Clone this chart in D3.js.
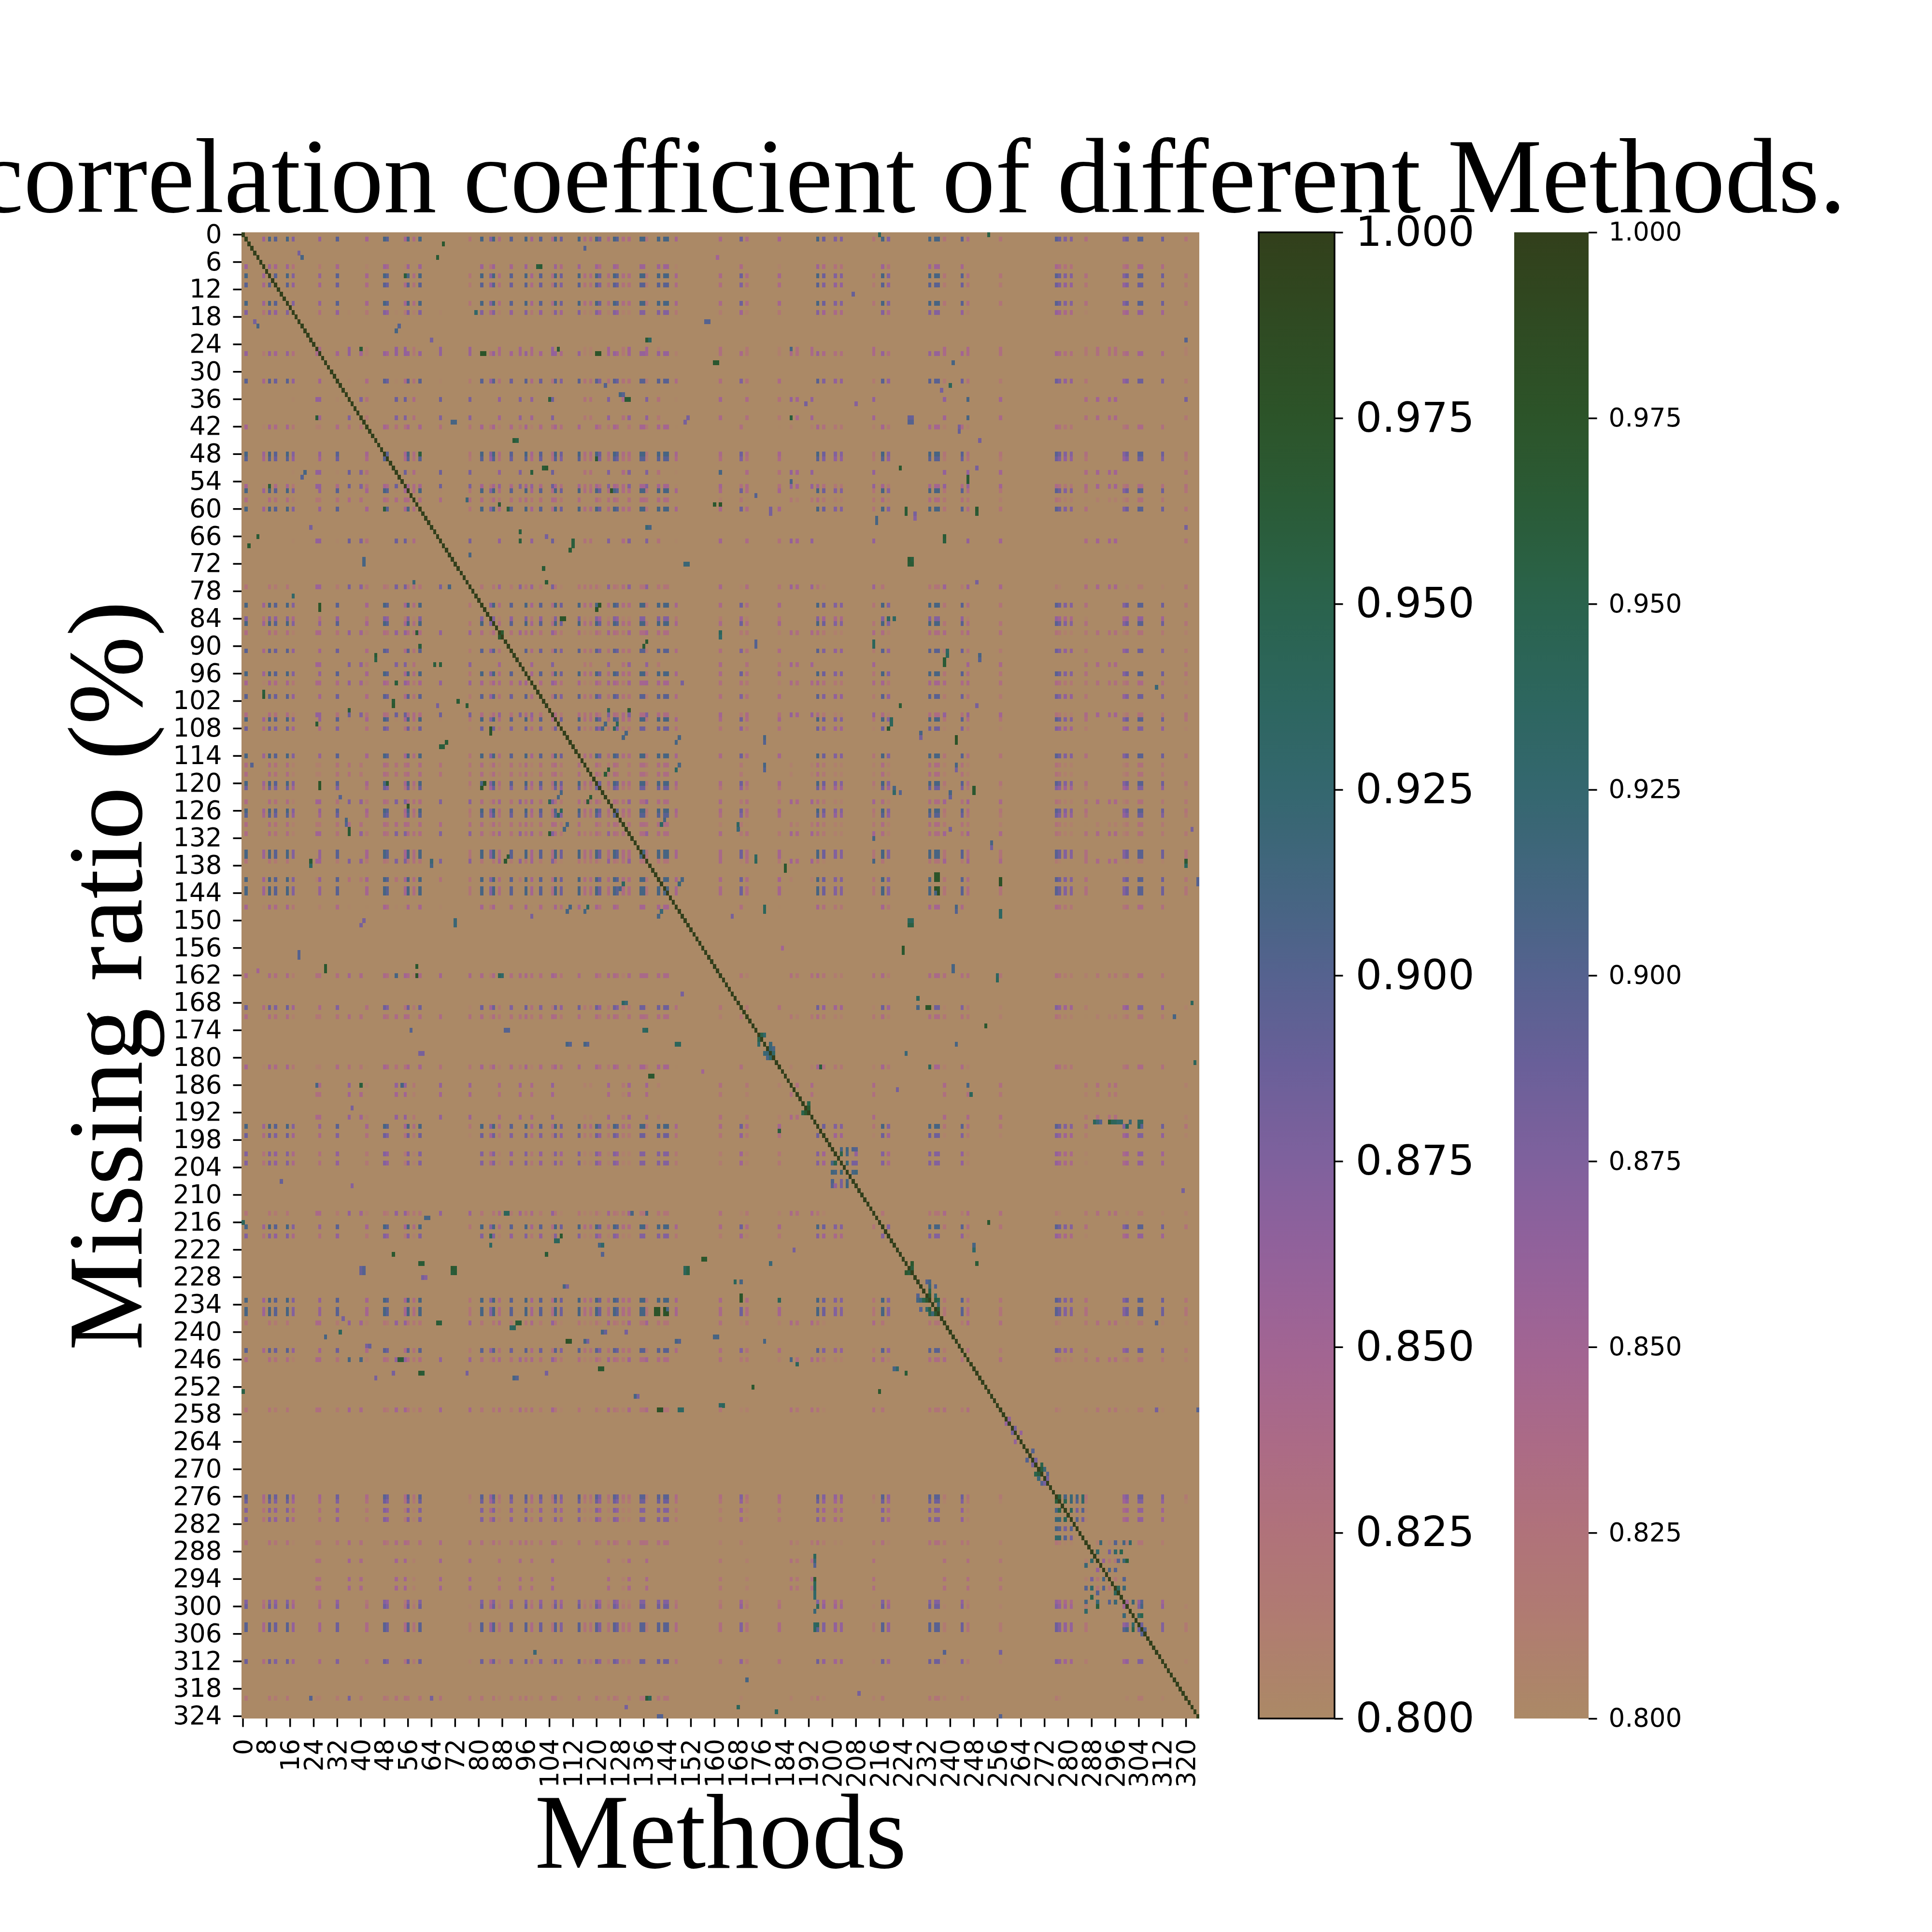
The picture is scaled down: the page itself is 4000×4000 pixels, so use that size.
<!DOCTYPE html>
<html>
<head>
<meta charset="utf-8">
<script src="https://cdn.jsdelivr.net/npm/d3@7/dist/d3.min.js"></script>
<style>
  body { margin: 0; background: #fff; }
</style>
</head>
<body>
<div id="chart"></div>
<script>
// ---- data ----
const nMethods = 325
const yTickStep = 6
const xTickStep = 8
const vmin = 0.8
const vmax = 1.0
const cbTicks = [0.800, 0.825, 0.850, 0.875, 0.900, 0.925, 0.950, 0.975, 1.000]

// colour ramp sampled from the colorbar
const rampValues = [0.8, 0.8125, 0.825, 0.8375, 0.85, 0.8625, 0.875, 0.8875, 0.9, 0.9125, 0.925, 0.9375, 0.95, 0.9625, 0.975, 0.9875, 1.0]
const rampColors = ["#ab8966", "#b07c70", "#b0727a", "#ab6a86", "#a26493", "#92619b", "#7f619d", "#6a5f99", "#55628f",
                    "#43657f", "#34676f", "#2c665e", "#2a634c", "#2a5c38", "#2c5429", "#2f4a22", "#323f1b"]

// methods that show the repeating striped grid, with their strength in the
// main group (A) and in the second, weaker group (B)
const hotIdx = [1, 7, 9, 11, 15, 17, 25, 26, 32, 36, 40, 42, 48, 49, 52, 55, 56, 58, 60, 67, 77, 81, 84, 85, 87, 91, 94, 96, 98, 101,
                105, 106, 108, 114, 116, 118, 120, 121, 124, 126, 127, 129, 131, 135, 136, 137, 141, 143, 144, 147, 162, 169, 171,
                182, 186, 188, 193, 195, 197, 201, 203, 214, 217, 219, 233, 235, 236, 238, 244, 246, 257, 276, 277, 279, 281, 286,
                290, 294, 296, 299, 300, 304, 305, 312, 320]
const levelA = [1.0, 0.78, 1.0, 0.95, 1.0, 0.85, 0.5, 0.8, 0.95, 0.5, 0.5, 0.75, 1.0, 0.95, 0.5, 0.75, 1.0, 0.7, 1.0, 0.5, 0.65, 1.0, 0.85, 1.0, 0.7, 0.95, 0.5, 1.0, 0.75, 0.95,
                0.7, 1.0, 0.9, 1.0, 0.7, 0.7, 1.0, 0.9, 0.7, 1.0, 0.95, 0.7, 0.7, 1.0, 1.0, 0.65, 1.0, 1.0, 1.0, 0.75, 0.72, 0.9, 0.7,
                0.75, 0.5, 0, 0.5, 1.0, 0.9, 0.85, 0.85, 0.65, 1.0, 0.85, 1.0, 1.0, 1.0, 0.65, 0.95, 0.7, 0.65, 0.95, 0.9, 0.85, 0.85, 0.68,
                0, 0, 0, 0.85, 0.9, 0.95, 0.95, 0.9, 0.65]
const levelB = [0, 0, 0, 0, 0, 0.6, 0.85, 0.85, 0.6, 0.95, 0.9, 0.7, 0, 0, 0.95, 0.95, 0.6, 0.75, 0, 0.95, 0.92, 0, 0, 0, 0.85, 0, 0.9, 0, 0.85, 0,
                0.95, 0.6, 0, 0, 0.7, 0.7, 0, 0, 0.9, 0, 0, 0.75, 0.9, 0, 0, 0.9, 0.7, 0, 0, 0.6, 0.8, 0, 0.75,
                0.7, 0.85, 0.8, 0.85, 0, 0, 0, 0, 0.85, 0, 0, 0, 0, 0, 0.85, 0, 0.85, 0.8, 0, 0, 0, 0, 0.75,
                0.8, 0.8, 0.8, 0, 0, 0, 0, 0, 0.7]

// isolated high cells [row, col, value] (mirrored)
const spots = [
  [2,68,0.97],[5,66,0.965],[7,100,0.96],[3,116,0.88],[4,19,0.88],[5,20,0.91],[21,52,0.91],[23,64,0.88],[23,137,0.965],[19,157,0.9],
  [25,40,0.96],[26,81,0.975],[25,107,0.965],[26,120,0.975],[28,160,0.97],[33,123,0.9],[36,130,0.965],[36,104,0.96],[35,128,0.91],
  [40,25,0.965],[41,71,0.91],[41,150,0.88],[45,92,0.965],[51,102,0.965],[53,20,0.9],[55,9,0.96],[56,125,0.975],[58,76,0.92],
  [59,87,0.965],[60,48,0.96],[59,160,0.97],[60,90,0.96],[64,23,0.88],[64,137,0.92],[65,94,0.96],[66,103,0.88],[69,111,0.965],
  [70,77,0.91],[72,41,0.91],[73,102,0.965],[72,150,0.92],[76,103,0.965],[79,17,0.93],[82,26,0.975],[82,120,0.975],[84,108,0.975],
  [87,59,0.96],[87,88,0.97],[90,136,0.965],[93,45,0.955],[94,67,0.96],[98,52,0.96],[101,7,0.965],[102,73,0.965],[103,51,0.97],[107,25,0.965],
  [0,216,0.94],[0,253,0.955],[5,161,0.85],[13,207,0.89],[23,320,0.89],[28,241,0.89],[33,240,0.91],[34,237,0.88],[37,191,0.88],
  [37,208,0.87],[40,186,0.96],[41,226,0.9],[41,227,0.9],[43,243,0.89],[45,250,0.87],[51,223,0.965],[51,249,0.88],[52,162,0.91],
  [54,246,0.965],[57,174,0.9],[59,162,0.975],[61,179,0.88],[61,225,0.965],[62,228,0.87],[61,249,0.965],[63,215,0.91],[64,320,0.88],
  [67,238,0.96],[72,226,0.965],[72,227,0.965],[76,249,0.88],[84,219,0.935],[84,221,0.935],[87,162,0.935],[90,174,0.9],[90,214,0.94],
  [92,239,0.94],[93,250,0.9],[94,238,0.965],[99,310,0.92],[103,223,0.965],[107,220,0.94],[103,249,0.88],
  [109,84,0.975],[112,67,0.96],[112,68,0.96],[108,122,0.91],[108,126,0.94],[110,129,0.91],[111,147,0.91],[117,147,0.935],[116,3,0.9],
  [118,123,0.965],[121,26,0.975],[120,49,0.965],[121,81,0.975],[123,33,0.9],[124,104,0.94],[124,117,0.965],[123,107,0.91],[127,107,0.94],
  [129,35,0.9],[130,109,0.91],[129,142,0.935],[131,36,0.965],[131,104,0.965],[138,23,0.935],[138,64,0.91],[137,89,0.97],[142,148,0.92],
  [143,128,0.91],[148,110,0.91],[148,116,0.91],[149,141,0.91],[149,98,0.88],[151,40,0.88],[151,72,0.92],[158,19,0.9],[161,28,0.97],
  [162,52,0.91],[162,59,0.97],[162,87,0.94],[162,88,0.93],[166,149,0.88],[168,129,0.935],[174,57,0.9],[174,89,0.9],[174,136,0.935],
  [177,110,0.91],[177,116,0.91],[177,147,0.94],[179,60,0.88],[183,156,0.85],[184,138,0.97],[186,25,0.91],[186,40,0.95],[186,54,0.91],
  [191,37,0.88],[207,13,0.89],[216,0,0.94],[215,62,0.91],[214,89,0.94],[219,84,0.935],[219,108,0.97],[220,106,0.94],[221,84,0.91],
  [221,121,0.91],[223,51,0.97],[223,103,0.965],
  [111,177,0.9],[111,242,0.975],[110,230,0.88],[117,177,0.9],[117,242,0.88],[122,221,0.93],[122,223,0.9],[123,240,0.89],[122,248,0.97],
  [130,168,0.92],[130,240,0.88],[132,214,0.91],[134,254,0.88],[137,174,0.94],[139,184,0.97],[137,214,0.91],[138,320,0.94],
  [141,235,0.975],[141,236,0.975],[143,235,0.98],[143,236,0.975],[142,257,0.98],[142,324,0.9],[148,177,0.94],[149,257,0.935],
  [148,242,0.9],[151,226,0.955],[151,227,0.955],[157,224,0.965],[161,241,0.88],[163,256,0.94],[167,229,0.94],[169,232,0.975],
  [169,233,0.975],[168,322,0.94],[171,316,0.91],[173,252,0.97],[177,242,0.88],[179,225,0.92],[181,323,0.935],[182,196,0.94],
  [186,246,0.9],[188,247,0.94],[187,222,0.88],[194,290,0.92],[194,291,0.9],[194,295,0.94],[194,297,0.93],[194,298,0.93],
  [194,301,0.92],[194,304,0.935],[194,305,0.935],[196,182,0.96],[216,253,0.97],[209,319,0.88],[221,248,0.91],
  [224,156,0.975],[225,60,0.965],[226,40,0.89],[227,40,0.89],[226,71,0.97],[227,71,0.96],[226,150,0.94],[227,150,0.94],[228,61,0.88],
  [230,109,0.91],[235,140,0.975],[236,140,0.975],[236,144,0.98],[237,34,0.88],[239,91,0.935],[238,66,0.965],[238,93,0.965],
  [240,33,0.94],[240,122,0.91],[241,28,0.91],[242,110,0.98],[242,116,0.91],[242,147,0.91],[241,160,0.91],[243,42,0.88],
  [246,53,0.965],[246,36,0.91],[246,40,0.91],[249,60,0.97],[248,121,0.97],[250,92,0.91],[250,45,0.88],[253,0,0.935],[254,133,0.91],
  [257,141,0.98],[257,148,0.935],[256,162,0.935],[320,23,0.9],[320,36,0.88],[320,64,0.88],[320,137,0.965],[322,130,0.88],[324,141,0.9],
  [224,157,0.97],[225,179,0.91],[222,248,0.93],[225,249,0.965],[229,167,0.94],[229,169,0.91],[233,169,0.975],[233,182,0.94],
  [241,161,0.91],[242,177,0.91],[246,186,0.91],[247,188,0.94],[248,221,0.91],[249,225,0.965],[252,173,0.965],[253,216,0.97],
  [256,163,0.94],[257,310,0.88],[257,324,0.88],[310,238,0.9],[310,257,0.88],[316,171,0.91],[319,209,0.88],[322,168,0.94],
  [323,181,0.94],[324,257,0.9],[289,194,0.94],[290,194,0.88],[294,194,0.965],[296,194,0.94],[300,195,0.94],[304,195,0.94]
]

// small blocks of related methods next to the diagonal [row, col, value] (mirrored)
const blocks = [
  [175,176,0.95],[175,177,0.93],[178,179,0.92],[178,180,0.91],[179,180,0.93],[177,179,0.92],
  [190,192,0.95],[191,192,0.97],
  [200,203,0.91],[200,205,0.915],[200,207,0.905],[200,208,0.9],[201,203,0.95],[201,205,0.91],[203,205,0.92],
  [203,207,0.88],[203,208,0.88],[205,207,0.91],[205,208,0.915],[201,208,0.86],
  [225,227,0.97],[226,227,0.96],[229,232,0.9],[229,233,0.91],[230,233,0.92],[231,233,0.95],[232,233,0.97],[232,235,0.93],
  [233,235,0.96],[233,236,0.95],[235,236,0.97],[234,236,0.92],[230,235,0.9],
  [259,260,0.86],[261,262,0.88],[262,264,0.86],
  [266,268,0.9],[268,269,0.88],[269,271,0.95],[270,271,0.96],[270,272,0.92],[271,273,0.9],[272,273,0.88],
  [276,277,0.96],[276,279,0.91],[276,281,0.92],[276,285,0.93],[277,279,0.95],[277,281,0.92],[279,281,0.94],[279,283,0.88],
  [281,283,0.9],[276,283,0.91],[277,283,0.9],[281,285,0.88],[277,285,0.93],[279,285,0.9],
  [286,291,0.92],[286,296,0.9],[286,299,0.91],[286,301,0.93],
  [288,290,0.93],[290,292,0.86],[290,297,0.9],[290,299,0.92],[290,300,0.96],
  [288,294,0.88],[292,294,0.91],[294,299,0.9],[288,296,0.93],[292,296,0.9],[296,297,0.94],[296,299,0.92],[288,298,0.95],
  [299,302,0.92],[300,305,0.91],[299,305,0.9],[302,304,0.93],[302,305,0.95],[305,306,0.9]
]

// everything else lies under the colour range (clipped to the lowest colour)
const offValue = 0.6

// ---- build the matrix ----
let mat = Array.from({length: nMethods}, () => new Array(nMethods).fill(offValue))
function put(i, j, v) {
  if (v > mat[i][j]) { mat[i][j] = v; mat[j][i] = v }
}
// grid cells: strength of the row method times strength of the column method
hotIdx.forEach((a, ia) => {
  hotIdx.forEach((b, ib) => {
    let s = Math.max(levelA[ia] * levelA[ib], levelB[ia] * levelB[ib])
    put(a, b, 0.66 + 0.25 * s)
  })
})
spots.forEach(d => put(d[0], d[1], d[2]))
blocks.forEach(d => put(d[0], d[1], d[2]))
for (let i = 0; i < nMethods; i++) mat[i][i] = 1.0

let cells = []
for (let i = 0; i < nMethods; i++)
  for (let j = 0; j < nMethods; j++)
    if (mat[i][j] > vmin) cells.push({row: i, col: j, value: mat[i][j]})

// ---- drawing ----
const width = 4000
const height = 4000

let svg = d3.select("#chart")
  .append("svg")
  .attr("width", width)
  .attr("height", height)
  .style("background", "#fff")

let color = d3.scaleLinear()
  .domain(rampValues)
  .range(rampColors)
  .interpolate(d3.interpolateRgb)
  .clamp(true)

let x = d3.scaleBand().domain(d3.range(nMethods)).range([500, 2483])
let y = d3.scaleBand().domain(d3.range(nMethods)).range([481, 3558])

// cells below vmin all share the lowest colour
svg.append("rect")
  .attr("x", x.range()[0])
  .attr("y", y.range()[0])
  .attr("width", x.range()[1] - x.range()[0])
  .attr("height", y.range()[1] - y.range()[0])
  .attr("fill", color(offValue))

svg.append("g")
  .attr("shape-rendering", "crispEdges")
  .selectAll("rect")
  .data(cells)
  .enter().append("rect")
    .attr("x", d => x(d.col))
    .attr("y", d => y(d.row))
    .attr("width", x.bandwidth() + 0.4)
    .attr("height", y.bandwidth() + 0.4)
    .attr("fill", d => color(d.value))

// y axis
let yAxis = svg.append("g")
  .attr("transform", "translate(500,0)")
  .call(d3.axisLeft(y).tickValues(d3.range(0, nMethods, yTickStep)).tickSize(17.5).tickPadding(23))
yAxis.select(".domain").remove()
yAxis.selectAll("line").attr("stroke-width", 3.5)
yAxis.selectAll("text").attr("font-size", 53).attr("font-family", "DejaVu Sans").attr("fill", "#000")

// x axis, labels turned upright
let xAxis = svg.append("g")
  .attr("transform", "translate(0,3558)")
  .call(d3.axisBottom(x).tickValues(d3.range(0, nMethods, xTickStep)).tickSize(17.5))
xAxis.select(".domain").remove()
xAxis.selectAll("line").attr("stroke-width", 3.5)
xAxis.selectAll("text")
  .attr("font-size", 53).attr("font-family", "DejaVu Sans").attr("fill", "#000")
  .attr("transform", "rotate(-90)")
  .attr("text-anchor", "end")
  .attr("x", -42)
  .attr("y", 0)
  .attr("dy", "0.35em")

// colorbars: the heatmap was drawn twice, so there are two of them
let cbScale = d3.scaleLinear().domain([vmin, vmax]).range([3558, 481])

let defs = svg.append("defs")
let grad = defs.append("linearGradient")
  .attr("id", "cbgrad")
  .attr("x1", 0).attr("y1", 1).attr("x2", 0).attr("y2", 0)
grad.selectAll("stop")
  .data(d3.range(0, 1.0001, 0.02))
  .enter().append("stop")
    .attr("offset", d => d)
    .attr("stop-color", d => color(vmin + d * (vmax - vmin)))

function colorbar(x0, x1, fontSize, pad, outline) {
  svg.append("rect")
    .attr("x", x0).attr("y", 481)
    .attr("width", x1 - x0).attr("height", 3558 - 481)
    .attr("fill", "url(#cbgrad)")
    .attr("stroke", outline ? "#000" : "none")
    .attr("stroke-width", 3.5)
  let ax = svg.append("g")
    .attr("transform", "translate(" + x1 + ",0)")
    .call(d3.axisRight(cbScale).tickValues(cbTicks).tickFormat(d3.format(".3f")).tickSize(17.5).tickPadding(pad))
  ax.select(".domain").remove()
  ax.selectAll("line").attr("stroke-width", 3.5)
  ax.selectAll("text").attr("font-size", fontSize).attr("font-family", "DejaVu Sans").attr("fill", "#000")
}
colorbar(2606, 2763, 86, 26, true)
colorbar(3135, 3289, 53, 24, false)

// title and axis labels
svg.append("text")
  .attr("x", 3822)
  .attr("y", 439)
  .attr("text-anchor", "end")
  .attr("font-family", "Liberation Serif")
  .attr("font-size", 220)
  .text("correlation coefficient of different Methods.")

svg.append("text")
  .attr("transform", "translate(293,2020) rotate(-90)")
  .attr("text-anchor", "middle")
  .attr("font-family", "Liberation Serif")
  .attr("font-size", 220)
  .text("Missing ratio (%)")

svg.append("text")
  .attr("x", 1492)
  .attr("y", 3867)
  .attr("text-anchor", "middle")
  .attr("font-family", "Liberation Serif")
  .attr("font-size", 220)
  .text("Methods")
</script>
</body>
</html>
